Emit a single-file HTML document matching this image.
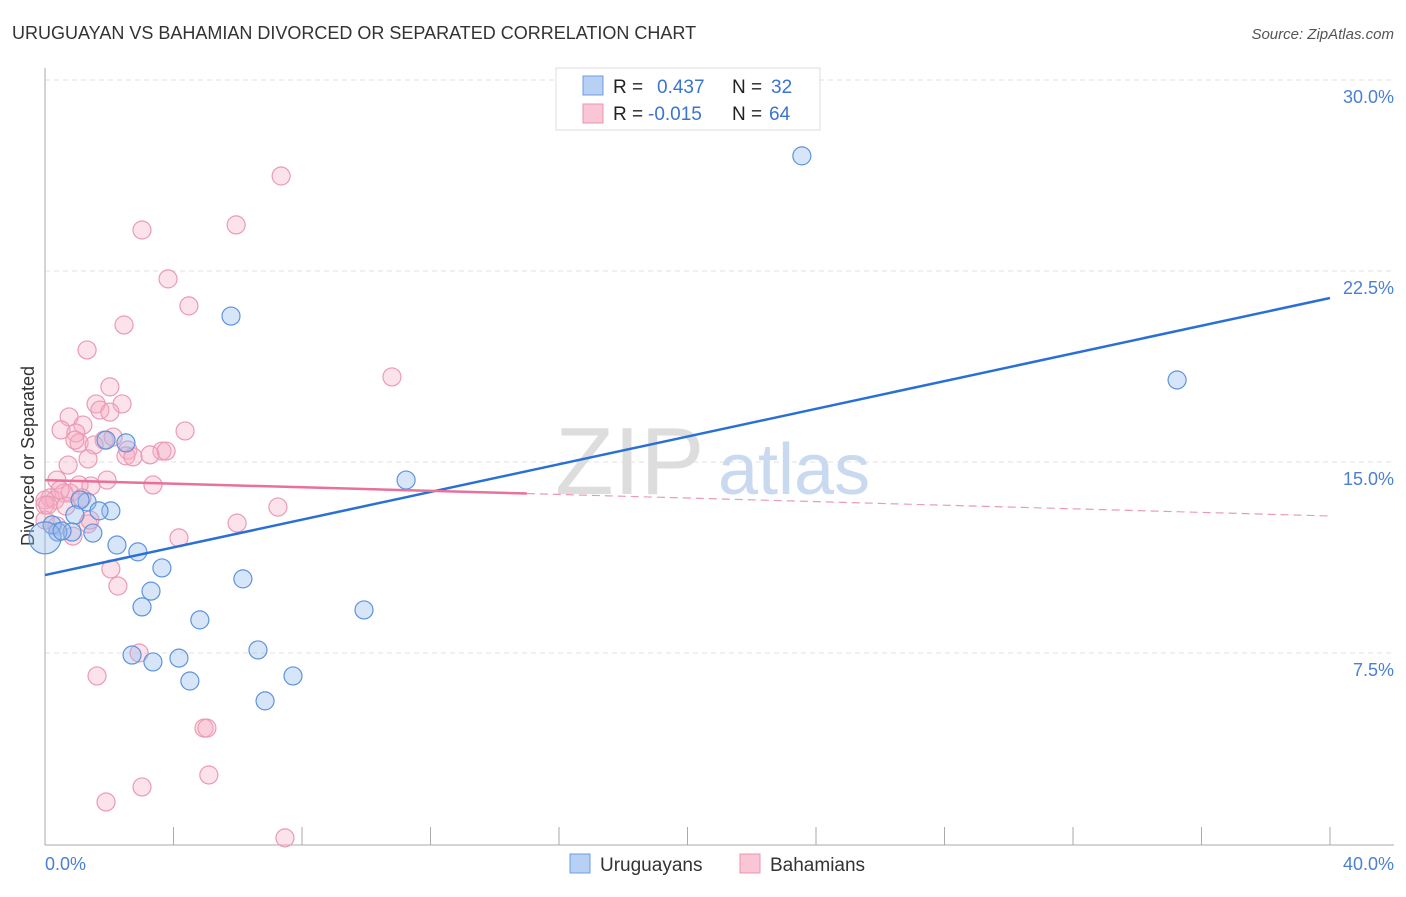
<!DOCTYPE html>
<html><head><meta charset="utf-8"><style>
body{margin:0;background:#fff;font-family:"Liberation Sans",sans-serif;}
svg text{font-family:"Liberation Sans",sans-serif;}
</style></head><body>
<svg width="1406" height="892" viewBox="0 0 1406 892">
<text x="12" y="39" font-size="18" fill="#333">URUGUAYAN VS BAHAMIAN DIVORCED OR SEPARATED CORRELATION CHART</text>
<text x="1394" y="39" font-size="15" fill="#555" text-anchor="end" font-style="italic">Source: ZipAtlas.com</text>
<g id="grid"></g>
<text x="555" y="494" font-size="96" fill="#ddd" font-family="Liberation Serif">ZIP</text>
<text x="718" y="494" font-size="72" fill="#c9d9f0">atlas</text>
<line x1="45" y1="68" x2="45" y2="845" stroke="#aaa"/>
<line x1="45" y1="845" x2="1394" y2="845" stroke="#aaa"/>
<g id="xticks"></g>
<g id="ylabels"></g>
<text x="45" y="870" font-size="18" fill="#4a7fd4">0.0%</text>
<text x="1394" y="870" font-size="18" fill="#4a7fd4" text-anchor="end">40.0%</text>
<text transform="translate(34,456) rotate(-90)" font-size="18" fill="#333" text-anchor="middle">Divorced or Separated</text>
<g id="pts"></g>
<g id="trends"></g>
<g>
<rect x="556" y="68" width="264" height="62" fill="#fff" stroke="#ddd"/>
<rect x="583" y="76" width="20" height="19" fill="#b7d0f3" stroke="#6d9de0"/>
<rect x="583" y="104" width="20" height="19" fill="#f9c6d5" stroke="#ea94b1"/>
<text x="613" y="93" font-size="19" fill="#222">R = </text><text x="657" y="93" font-size="19" fill="#3a74d0">0.437</text>
<text x="732" y="93" font-size="19" fill="#222">N = </text><text x="771" y="93" font-size="19" fill="#3a74d0">32</text>
<text x="613" y="120" font-size="19" fill="#222">R = </text><text x="648" y="120" font-size="19" fill="#3a74d0">-0.015</text>
<text x="732" y="120" font-size="19" fill="#222">N = </text><text x="769" y="120" font-size="19" fill="#3a74d0">64</text>
</g>
<g>
<rect x="570" y="854" width="20" height="19" fill="#b7d0f3" stroke="#6d9de0"/>
<text x="600" y="871" font-size="19" fill="#333">Uruguayans</text>
<rect x="740" y="854" width="20" height="19" fill="#f9c6d5" stroke="#ea94b1"/>
<text x="770" y="871" font-size="19" fill="#333">Bahamians</text>
</g>
</svg>
<script>
const yTicks=[7.5,15,22.5,30];
const xTickVals=[0,4,8,12,16,20,24,28,32,36,40];
const blueX=[23.56,35.24,5.79,11.24,2.52,1.90,1.31,1.09,0.93,2.05,1.68,1.49,0.84,0.40,0.22,0,2.24,2.89,3.64,3.30,3.02,6.16,4.82,9.93,2.71,3.36,4.17,4.51,6.63,7.72,6.85,0.53];
const blueY=[27.02,18.22,20.73,14.29,15.75,15.86,13.43,13.51,12.92,13.08,13.08,12.21,12.25,12.25,12.53,12.02,11.74,11.47,10.84,9.93,9.31,10.41,8.80,9.19,7.42,7.15,7.30,6.40,7.62,6.60,5.62,12.29];
const pinkX=[7.35,5.95,3.02,3.83,4.48,2.46,1.31,10.80,2.02,2.40,1.59,1.71,0.75,1.18,0.50,0.96,1.84,2.12,4.36,1.06,1.53,3.64,3.77,2.58,2.52,2.74,1.34,0.72,1.93,0.37,3.36,1.06,1.43,0.59,0.78,0.16,0.31,0,1.15,0.65,7.25,5.98,1.34,0,0.87,4.17,2.05,2.27,1.62,2.93,4.95,5.04,5.10,3.02,1.90,7.47,0.37,0,2.02,0.47,0.09,0.93,3.27,1.40];
const pinkY=[26.23,24.31,24.11,22.19,21.13,20.38,19.40,18.34,17.95,17.28,17.28,17.04,16.77,16.45,16.26,16.14,15.86,15.98,16.22,15.75,15.67,15.43,15.43,15.47,15.24,15.20,15.12,14.88,14.29,14.29,14.10,14.10,14.06,13.78,13.78,13.59,13.51,13.51,13.59,13.27,13.23,12.60,12.57,13.31,12.09,12.02,10.80,10.13,6.60,7.50,4.55,4.55,2.71,2.24,1.65,0.24,12.49,12.72,16.96,13.90,13.31,15.86,15.28,12.72];
const blueTrend=[10.56,21.44];
const pinkTrend=[14.29,12.88];
const pinkSolidEnd=15.0;
const NS="http://www.w3.org/2000/svg";
const sx=v=>45+v/40*1285;
const sy=v=>844-v/7.5*191;
function mk(tag,attrs,parent){const e=document.createElementNS(NS,tag);for(const k in attrs)e.setAttribute(k,attrs[k]);document.getElementById(parent).appendChild(e);return e;}
yTicks.forEach(t=>{
 const l=mk('line',{x1:45,x2:1394,y1:sy(t),y2:sy(t),stroke:'#e2e2e2','stroke-dasharray':'5,4'},'grid');
 
 
 const tx=mk('text',{x:1394,y:sy(t)+23,'font-size':18,fill:'#4a7fd4','text-anchor':'end'},'ylabels');
 tx.textContent=t.toFixed(1)+'%';
 
 
});
xTickVals.forEach(t=>{
 const l=mk('line',{x1:sx(t),x2:sx(t),y1:827,y2:845,stroke:'#aaa'},'xticks');
 
 
});
pinkX.forEach((x,i)=>{
 const c=mk('circle',{cx:sx(x),cy:sy(pinkY[i]),r:9,fill:'rgba(246,172,196,0.35)',stroke:'#eb9ab5','stroke-width':1.2},'pts');
 
 
});
blueX.forEach((x,i)=>{
 const c=mk('circle',{cx:sx(x),cy:sy(blueY[i]),r:(i===15?16:9),fill:'rgba(150,186,236,0.38)',stroke:'#5e93dc','stroke-width':1.2},'pts');
 
 
});
const bl=mk('line',{x1:sx(0),y1:sy(blueTrend[0]),x2:sx(40),y2:sy(blueTrend[1]),stroke:'#2a6fd6','stroke-width':2.5},'trends');


const pm=pinkTrend[0]+(pinkTrend[1]-pinkTrend[0])*pinkSolidEnd/40;
const ps=mk('line',{x1:sx(0),y1:sy(pinkTrend[0]),x2:sx(pinkSolidEnd),y2:sy(pm),stroke:'#e8709a','stroke-width':2.5},'trends');


const pd=mk('line',{x1:sx(pinkSolidEnd),y1:sy(pm),x2:sx(40),y2:sy(pinkTrend[1]),stroke:'#eb9ab5','stroke-width':1.2,'stroke-dasharray':'8,5'},'trends');


</script>
</body></html>
